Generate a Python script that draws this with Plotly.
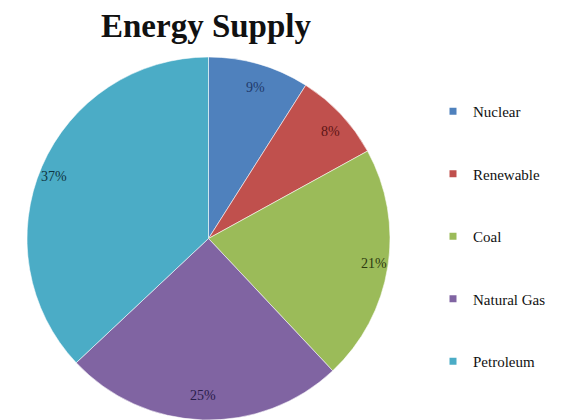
import math
import plotly.graph_objects as go

# ---- data ----
categories = ["Nuclear", "Renewable", "Coal", "Natural Gas", "Petroleum"]
values = [9, 8, 21, 25, 37]
slice_colors = ["#4F81BD", "#C0504D", "#9BBB59", "#8064A2", "#4BACC6"]
label_colors = ["#1F3A6B", "#5C1515", "#2E3A10", "#2A1D4A", "#0F3542"]
title_text = "Energy Supply"

W, H = 562, 420
SERIF = "Liberation Serif"

fig = go.Figure()

# pie (circle) placed with its centre at about (208, 239) px
cx_px, cy_px, r_px = 208.5, 238.5, 181.5
fig.add_trace(go.Pie(
    labels=categories,
    values=values,
    sort=False,
    direction="clockwise",
    rotation=0,
    textinfo="none",
    hoverinfo="label+percent",
    showlegend=False,
    marker=dict(colors=slice_colors,
                line=dict(color="rgba(255,255,255,0.55)", width=1)),
    domain=dict(x=[(cx_px - r_px) / W, (cx_px + r_px) / W],
                y=[(H - cy_px - r_px) / H, (H - cy_px + r_px) / H]),
))

# percentage labels placed along each slice's mid-angle
total = sum(values)
kx, ky = 168.0 / W, 157.0 / H
cum = 0
for v, col in zip(values, label_colors):
    mid = (cum + v / 2) / total * 2 * math.pi
    cum += v
    fig.add_annotation(
        x=cx_px / W + kx * math.sin(mid),
        y=(H - cy_px) / H + ky * math.cos(mid),
        xref="paper", yref="paper",
        text=f"{round(v / total * 100)}%",
        showarrow=False,
        font=dict(family=SERIF, size=14, color=col),
        xanchor="center", yanchor="middle",
    )

# legend entries (one group per category so spacing can be set)
for name, col in zip(categories, slice_colors):
    fig.add_trace(go.Scatter(
        x=[None], y=[None], mode="markers", name=name,
        legendgroup=name,
        marker=dict(symbol="square", size=7, color=col),
        hoverinfo="skip",
    ))

fig.update_layout(
    width=W, height=H,
    margin=dict(l=0, r=0, t=0, b=0),
    paper_bgcolor="white", plot_bgcolor="white",
    title=dict(text=f"<b>{title_text}</b>", x=206 / W, xanchor="center",
               y=1 - 25 / H, yanchor="middle",
               font=dict(family=SERIF, size=33, color="#111111")),
    xaxis=dict(visible=False), yaxis=dict(visible=False),
    legend=dict(x=433 / W, xanchor="left", y=1 - 95 / H, yanchor="top",
                font=dict(family=SERIF, size=15, color="#111111"),
                tracegroupgap=40, bgcolor="rgba(0,0,0,0)"),
)

fig.write_html("out.html")
